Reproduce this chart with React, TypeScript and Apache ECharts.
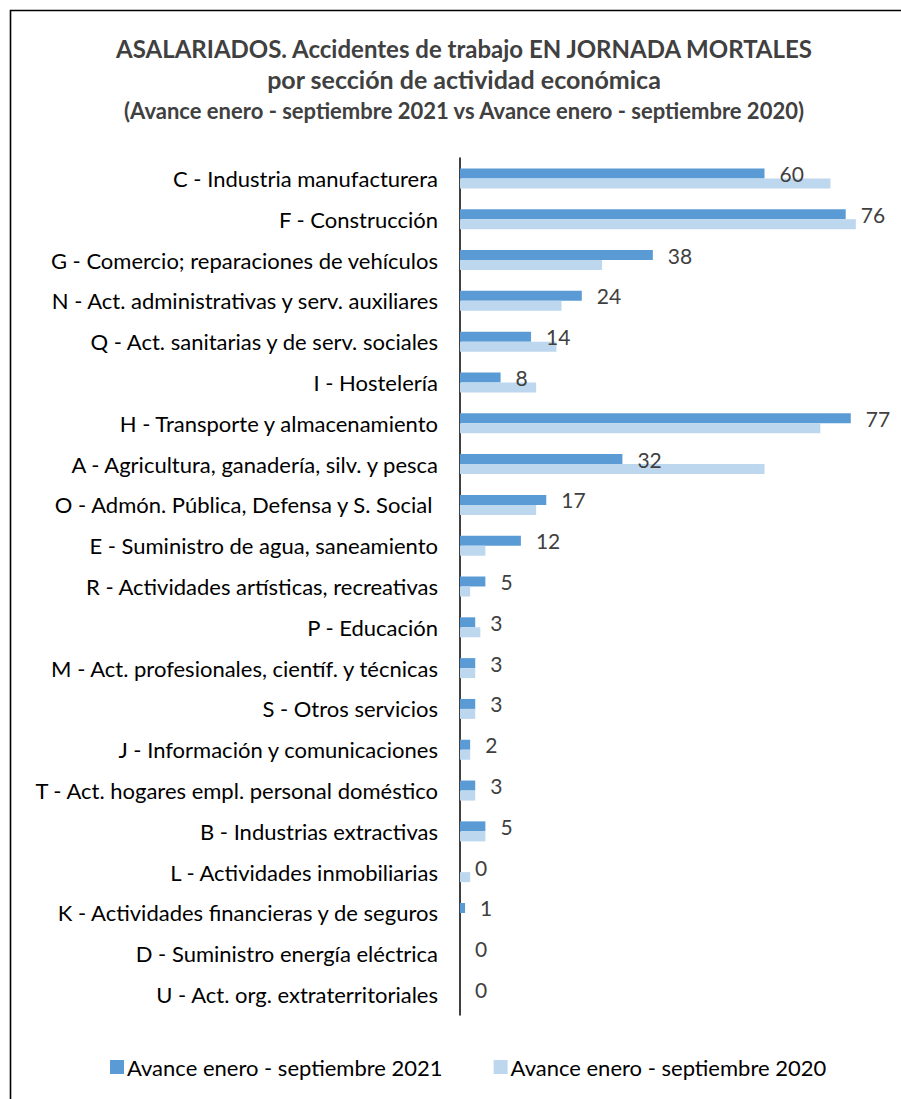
import React, { useEffect, useRef } from "react";
import * as echarts from "echarts";

const categories = [
  "C - Industria manufacturera",
  "F - Construcción",
  "G - Comercio; reparaciones de vehículos",
  "N - Act. administrativas y serv. auxiliares",
  "Q - Act. sanitarias y de serv. sociales",
  "I - Hostelería",
  "H - Transporte y almacenamiento",
  "A - Agricultura, ganadería, silv. y pesca",
  "O - Admón. Pública, Defensa y S. Social ",
  "E - Suministro de agua, saneamiento",
  "R - Actividades artísticas, recreativas",
  "P - Educación",
  "M - Act. profesionales, científ. y técnicas",
  "S - Otros servicios",
  "J - Información y comunicaciones",
  "T - Act. hogares empl. personal doméstico",
  "B - Industrias extractivas",
  "L - Actividades inmobiliarias",
  "K - Actividades financieras y de seguros",
  "D - Suministro energía eléctrica",
  "U - Act. org. extraterritoriales",
];

const values2021 = [60, 76, 38, 24, 14, 8, 77, 32, 17, 12, 5, 3, 3, 3, 2, 3, 5, 0, 1, 0, 0];
const values2020 = [73, 78, 28, 20, 19, 15, 71, 60, 15, 5, 2, 4, 3, 3, 2, 3, 5, 2, 0, 0, 0];

const seriesNames = ["Avance enero - septiembre 2021", "Avance enero - septiembre 2020"];
const titleLines = [
  "ASALARIADOS. Accidentes de trabajo EN JORNADA MORTALES",
  "por sección de actividad económica",
  "(Avance enero - septiembre 2021 vs Avance enero - septiembre 2020)",
];

const FONT = "Lato, 'Open Sans', sans-serif";

export default function App() {
  const ref = useRef<HTMLDivElement>(null);
  useEffect(() => {
    if (!ref.current) return;
    const chart = echarts.init(ref.current, undefined, { renderer: "svg" });
    chart.setOption({
      animation: false,
      backgroundColor: "#ffffff",
      textStyle: { fontFamily: FONT },
      graphic: [
        {
          type: "rect",
          shape: { x: 10.5, y: 10.5, width: 900, height: 1100 },
          style: { fill: "none", stroke: "#000", lineWidth: 1.6 },
          silent: true,
        },
        {
          type: "text",
          x: 464,
          y: 48,
          style: {
            text: titleLines[0],
            font: `bold 24px ${FONT}`,
            fill: "#404040",
            align: "center",
            verticalAlign: "middle",
          },
        },
        {
          type: "text",
          x: 464,
          y: 79,
          style: {
            text: titleLines[1],
            font: `bold 25px ${FONT}`,
            fill: "#404040",
            align: "center",
            verticalAlign: "middle",
          },
        },
        {
          type: "text",
          x: 464,
          y: 110,
          style: {
            text: titleLines[2],
            font: `bold 22px ${FONT}`,
            fill: "#404040",
            align: "center",
            verticalAlign: "middle",
          },
        },
      ],
      legend: {
        left: 105,
        top: 1051,
        icon: "rect",
        itemWidth: 14,
        itemHeight: 14,
        itemGap: 51,
        textStyle: { fontSize: 22, color: "#000", fontFamily: FONT, padding: [0, 0, 0, -2] },
        data: seriesNames,
      },
      grid: { left: 460, right: 35, top: 158, bottom: 84, containLabel: false },
      xAxis: {
        type: "value",
        min: 0,
        max: 80,
        show: false,
      },
      yAxis: {
        type: "category",
        inverse: true,
        data: categories,
        axisLine: { show: true, lineStyle: { color: "#000", width: 1.5 } },
        axisTick: { show: false },
        axisLabel: { fontSize: 22, color: "#000", margin: 22, fontFamily: FONT },
      },
      series: [
        {
          name: seriesNames[0],
          type: "bar",
          data: values2021,
          barWidth: 10,
          barGap: "0%",
          itemStyle: { color: "#5B9BD5" },
          label: {
            show: true,
            position: "right",
            distance: 15,
            fontSize: 21,
            color: "#404040",
            fontFamily: FONT,
          },
        },
        {
          name: seriesNames[1],
          type: "bar",
          data: values2020,
          barWidth: 10,
          barGap: "0%",
          itemStyle: { color: "#BDD7EE" },
        },
      ],
    });
    return () => chart.dispose();
  }, []);
  return (
    <div
      ref={ref}
      style={{ position: "absolute", left: 0, top: 0, width: 901, height: 1099 }}
    />
  );
}
